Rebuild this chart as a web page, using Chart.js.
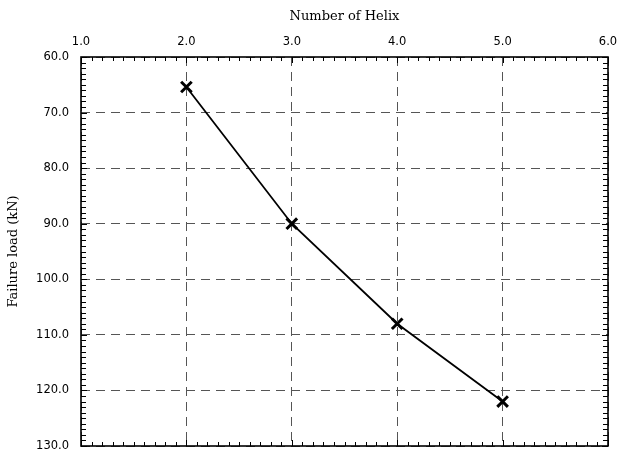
<!DOCTYPE html>
<html>
<head>
<meta charset="utf-8">
<script src="https://cdn.jsdelivr.net/npm/chart.js@4"></script>
<style>
  html, body { margin: 0; padding: 0; background: #ffffff; }
  #wrap { width: 619px; height: 453px; position: relative; }
</style>
</head>
<body>
<div id="wrap"><canvas id="c"></canvas></div>
<script>
// Helix count versus failure load
const helixCount = [2, 3, 4, 5];
const failureLoad = [65.4, 90.0, 108.0, 122.0];
const xTickValues = [1, 2, 3, 4, 5, 6];
const yTickValues = [60, 70, 80, 90, 100, 110, 120, 130];

const tickFont = { family: '"DejaVu Sans", sans-serif', size: 11.5 };
const titleFont = { family: '"DejaVu Serif", serif', size: 13 };

// Solid frame plus inward tick marks (minor every 0.1 / 1 unit) on all four sides
const frameTicks = {
  id: 'frameTicks',
  afterDatasetsDraw(chart) {
    const { ctx, chartArea: a, scales: { x, y } } = chart;
    ctx.save();
    ctx.strokeStyle = '#000';
    ctx.lineWidth = 1;
    ctx.beginPath();
    for (let i = 0; i <= 50; i++) {
      const px = Math.round(x.getPixelForValue(1 + i * 0.1)) + 0.5;
      const len = (i % 10 === 0) ? 6 : 4;
      ctx.moveTo(px, a.top); ctx.lineTo(px, a.top + len);
      ctx.moveTo(px, a.bottom); ctx.lineTo(px, a.bottom - len);
    }
    for (let i = 0; i <= 70; i++) {
      const py = Math.round(y.getPixelForValue(60 + i)) + 0.5;
      const len = (i % 10 === 0) ? 6 : 5;
      ctx.moveTo(a.left, py); ctx.lineTo(a.left + len, py);
      ctx.moveTo(a.right, py); ctx.lineTo(a.right - len, py);
    }
    ctx.stroke();
    ctx.lineWidth = 1.6;
    ctx.strokeRect(a.left, a.top, a.right - a.left, a.bottom - a.top);
    ctx.restore();
  }
};

new Chart(document.getElementById('c'), {
  type: 'line',
  data: {
    datasets: [{
      data: helixCount.map((h, i) => ({ x: h, y: failureLoad[i] })),
      borderColor: '#000',
      borderWidth: 1.8,
      tension: 0,
      pointStyle: 'crossRot',
      pointRadius: 7.5,
      pointBorderWidth: 3,
      pointBorderColor: '#000',
      pointBackgroundColor: '#000',
      fill: false
    }]
  },
  options: {
    responsive: true,
    maintainAspectRatio: false,
    animation: false,
    layout: { autoPadding: false, padding: { top: 0, left: 0, right: 11, bottom: 7 } },
    plugins: { legend: { display: false }, tooltip: { enabled: false } },
    scales: {
      x: {
        type: 'linear',
        position: 'top',
        min: 1, max: 6,
        afterBuildTicks(scale) { scale.ticks = xTickValues.map(v => ({ value: v })); },
        afterFit(scale) {
          scale.height = 57;
          scale.paddingLeft = 0; scale.paddingRight = 0;
          scale.paddingTop = 0; scale.paddingBottom = 0;
        },
        ticks: {
          color: '#000',
          padding: 8,
          font: tickFont,
          callback: v => Number(v).toFixed(1)
        },
        grid: { color: '#555', lineWidth: 1, drawTicks: false },
        border: { display: false, dash: [9, 6] },
        title: {
          display: true,
          text: 'Number of Helix',
          color: '#000',
          padding: { top: 9, bottom: 0 },
          font: titleFont
        }
      },
      y: {
        type: 'linear',
        position: 'left',
        reverse: true,
        min: 60, max: 130,
        afterBuildTicks(scale) { scale.ticks = yTickValues.map(v => ({ value: v })); },
        afterFit(scale) {
          scale.width = 81;
          scale.paddingLeft = 0; scale.paddingRight = 0;
          scale.paddingTop = 0; scale.paddingBottom = 0;
        },
        ticks: {
          color: '#000',
          padding: 12,
          font: tickFont,
          callback: v => Number(v).toFixed(1)
        },
        grid: { color: '#555', lineWidth: 1, drawTicks: false },
        border: { display: false, dash: [9, 6] },
        title: {
          display: true,
          text: 'Failure load (kN)',
          color: '#000',
          padding: { top: 6, bottom: 0 },
          font: titleFont
        }
      }
    }
  },
  plugins: [frameTicks]
});
</script>
</body>
</html>
